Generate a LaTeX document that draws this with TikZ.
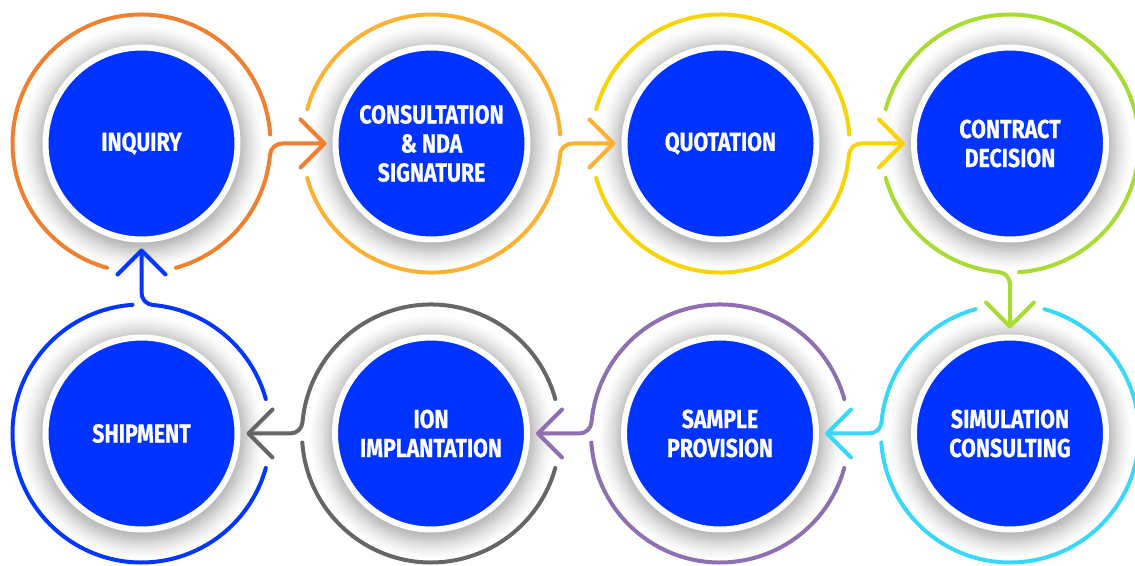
\documentclass[tikz,border=0pt]{standalone}
\usepackage{fontspec}
\newfontfamily\labelfont[FakeStretch=0.82,FakeBold=0.6]{Fira Sans}
\usetikzlibrary{calc,arrows.meta,backgrounds}
\definecolor{diskblue}{HTML}{0033FF}
\definecolor{colA}{HTML}{F08030}
\definecolor{colB}{HTML}{FBB234}
\definecolor{colC}{HTML}{F8D406}
\definecolor{colD}{HTML}{A8DB34}
\definecolor{colE}{HTML}{38D8F8}
\definecolor{colF}{HTML}{8E70B0}
\definecolor{colG}{HTML}{666666}
\definecolor{colH}{HTML}{0536FF}
\pgfdeclareradialshading{glow}{\pgfpoint{0bp}{0bp}}{color(0bp)=(black!30); color(19bp)=(black!30); color(20.25bp)=(black!23); color(21.5bp)=(black!14); color(23bp)=(black!6); color(24.5bp)=(white); color(50bp)=(white)}
\tikzset{
  disk/.style={circle, fill=diskblue, draw=white, line width=6pt, minimum size=192pt, inner sep=0pt,
    text=white, align=center, font=\labelfont\bfseries\fontsize{26}{29}\selectfont},
  ring/.style={draw=#1, line width=4pt, line cap=round, line join=round},
  flow/.style={ring=#1, -{Straight Barb[length=24pt,width=48pt,round]}},
}
\begin{document}
\begin{tikzpicture}[x=1pt,y=1pt]
\useasboundingbox (0,0) rectangle (1135,565);
\clip (0,0) rectangle (1135,565);
% disks
\node[disk] (c1) at (141.5,421.5) {INQUIRY};
\node[disk] (c2) at (431.5,421.5) {CONSULTATION\\\& NDA\\SIGNATURE};
\node[disk] (c3) at (720.5,421.5) {QUOTATION};
\node[disk] (c4) at (1010,421.5) {CONTRACT\\DECISION};
\node[disk] (c5) at (1010,131.5) {SIMULATION\\CONSULTING};
\node[disk] (c6) at (720,131.5) {SAMPLE\\PROVISION};
\node[disk] (c7) at (431,131.5) {ION\\IMPLANTATION};
\node[disk] (c8) at (141.5,131.5) {SHIPMENT};
% shadows
\begin{scope}[on background layer]
  \foreach \n in {c1,c2,c3,c4,c5,c6,c7,c8}
    \shade[shading=glow] ($(\n)+(0,-3)$) circle[radius=124];
\end{scope}
% rings (arcs without connector)
\draw[ring=colA] ($(c1)+(4:129)$) arc[start angle=4, end angle=254.5, radius=129];
\draw[ring=colB] ($(c2)+(4:129)$) arc[start angle=4, end angle=164.5, radius=129];
\draw[ring=colC] ($(c3)+(4:129)$) arc[start angle=4, end angle=164.5, radius=129];
\draw[ring=colD] ($(c4)+(274:129)$) arc[start angle=274, end angle=524.5, radius=129];
\draw[ring=colE] ($(c5)+(184:129)$) arc[start angle=184, end angle=434.5, radius=129];
\draw[ring=colF] ($(c6)+(184:129)$) arc[start angle=184, end angle=344.5, radius=129];
\draw[ring=colG] ($(c7)+(184:129)$) arc[start angle=184, end angle=344.5, radius=129];
\draw[ring=colH] ($(c8)+(94:129)$) arc[start angle=94, end angle=344.5, radius=129];
% rings continuing into connectors
\draw[flow=colA] ($(c1)+(285.5:129)$) arc[start angle=285.5, end angle=355, radius=129]
  to[out=85,in=180] ($(c1)+(141,0)$) -- ($(c2)+(-105,0)$);
\draw[flow=colB] ($(c2)+(195.5:129)$) arc[start angle=195.5, end angle=355, radius=129]
  to[out=85,in=180] ($(c2)+(141,0)$) -- ($(c3)+(-105,0)$);
\draw[flow=colC] ($(c3)+(195.5:129)$) arc[start angle=195.5, end angle=355, radius=129]
  to[out=85,in=180] ($(c3)+(141,0)$) -- ($(c4)+(-105,0)$);
\draw[flow=colD] ($(c4)+(195.5:129)$) arc[start angle=195.5, end angle=265, radius=129]
  to[out=355,in=90] ($(c4)+(0,-141)$) -- ($(c5)+(0,105)$);
\draw[flow=colE] ($(c5)+(105.5:129)$) arc[start angle=105.5, end angle=175, radius=129]
  to[out=265,in=0] ($(c5)+(-141,0)$) -- ($(c6)+(105,0)$);
\draw[flow=colF] ($(c6)+(15.5:129)$) arc[start angle=15.5, end angle=175, radius=129]
  to[out=265,in=0] ($(c6)+(-141,0)$) -- ($(c7)+(105,0)$);
\draw[flow=colG] ($(c7)+(15.5:129)$) arc[start angle=15.5, end angle=175, radius=129]
  to[out=265,in=0] ($(c7)+(-141,0)$) -- ($(c8)+(105,0)$);
\draw[flow=colH] ($(c8)+(15.5:129)$) arc[start angle=15.5, end angle=85, radius=129]
  to[out=175,in=270] ($(c8)+(0,141)$) -- ($(c1)+(0,-105)$);
\end{tikzpicture}
\end{document}
